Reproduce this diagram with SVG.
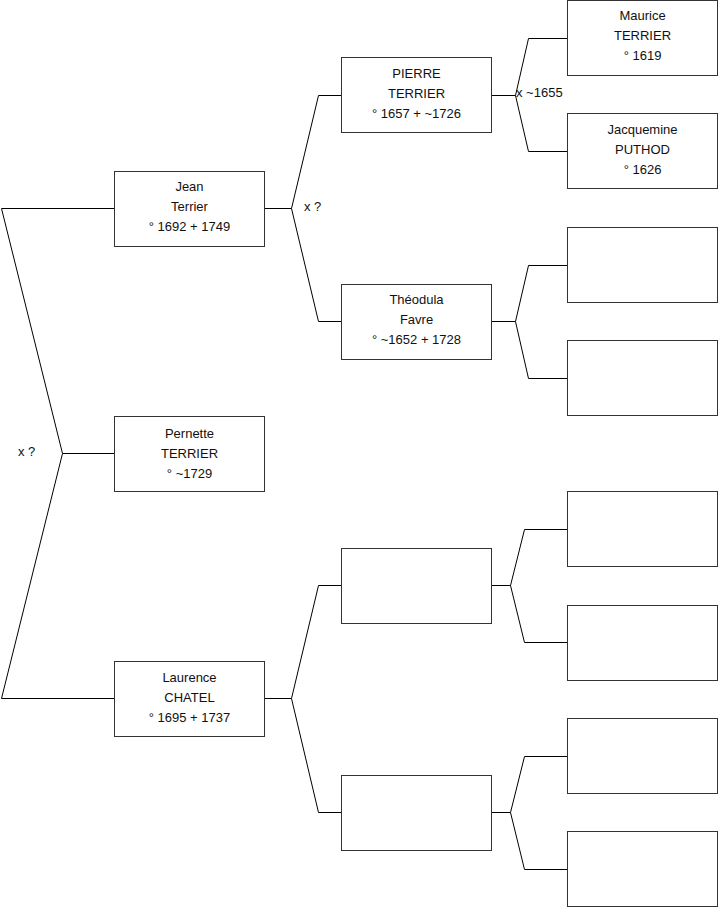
<svg xmlns="http://www.w3.org/2000/svg" width="719" height="908" viewBox="0 0 719 908">
<style>
.box{fill:#fff;stroke:#333;stroke-width:1}
.c{fill:none;stroke:#000;stroke-width:1}
text{font-family:"Liberation Sans",Arial,sans-serif;font-size:13px;fill:#111}
.t{text-anchor:middle}
</style>
<rect width="719" height="908" fill="#fff"/>
<g id="connectors">
<polyline class="c" points="114,208.5 1.5,208.5 62.5,453.5 1.5,698.5 114,698.5"/>
<line class="c" x1="62.5" y1="453.5" x2="114" y2="453.5"/>
<polyline class="c" points="341,95.5 318.5,95.5 291.5,208.5 318.5,321.5 341,321.5"/>
<line class="c" x1="265" y1="208.5" x2="291.5" y2="208.5"/>
<polyline class="c" points="341,585.5 318.5,585.5 291.5,698.5 318.5,812.5 341,812.5"/>
<line class="c" x1="265" y1="698.5" x2="291.5" y2="698.5"/>
<polyline class="c" points="567,38.5 528.5,38.5 515.5,95.5 528.5,151.5 567,151.5"/>
<line class="c" x1="491" y1="95.5" x2="515.5" y2="95.5"/>
<polyline class="c" points="567,265.5 528.5,265.5 515.5,321.5 528.5,378.5 567,378.5"/>
<line class="c" x1="491" y1="321.5" x2="515.5" y2="321.5"/>
<polyline class="c" points="567,529.5 524.5,529.5 510.5,585.5 524.5,642.5 567,642.5"/>
<line class="c" x1="491" y1="585.5" x2="510.5" y2="585.5"/>
<polyline class="c" points="567,756.5 524.5,756.5 510.5,812.5 524.5,869.5 567,869.5"/>
<line class="c" x1="491" y1="812.5" x2="510.5" y2="812.5"/>
<text x="18" y="456">x ?</text>
<text x="304" y="211">x ?</text>
<text x="516" y="97">x ~1655</text>
</g>
<g id="jean"><rect class="box" x="114.5" y="171.5" width="150" height="75"/>
<text class="t" x="189.5" y="190.5">Jean</text><text class="t" x="189.5" y="210.5">Terrier</text><text class="t" x="189.5" y="230.5">° 1692 + 1749</text></g>
<g id="pernette"><rect class="box" x="114.5" y="416.5" width="150" height="75"/>
<text class="t" x="189.5" y="437.5">Pernette</text><text class="t" x="189.5" y="457.5">TERRIER</text><text class="t" x="189.5" y="477.5">° ~1729</text></g>
<g id="laurence"><rect class="box" x="114.5" y="661.5" width="150" height="75"/>
<text class="t" x="189.5" y="681.5">Laurence</text><text class="t" x="189.5" y="701.5">CHATEL</text><text class="t" x="189.5" y="721.5">° 1695 + 1737</text></g>
<g id="pierre"><rect class="box" x="341.5" y="57.5" width="150" height="75"/>
<text class="t" x="416.5" y="77.5">PIERRE</text><text class="t" x="416.5" y="97.5">TERRIER</text><text class="t" x="416.5" y="117.5">° 1657 + ~1726</text></g>
<g id="theodula"><rect class="box" x="341.5" y="284.5" width="150" height="75"/>
<text class="t" x="416.5" y="303.5">Théodula</text><text class="t" x="416.5" y="323.5">Favre</text><text class="t" x="416.5" y="343.5">° ~1652 + 1728</text></g>
<g id="empty1"><rect class="box" x="341.5" y="548.5" width="150" height="75"/></g>
<g id="empty2"><rect class="box" x="341.5" y="775.5" width="150" height="75"/></g>
<g id="maurice"><rect class="box" x="567.5" y="0.5" width="150" height="75"/>
<text class="t" x="642.5" y="20">Maurice</text><text class="t" x="642.5" y="40">TERRIER</text><text class="t" x="642.5" y="60">° 1619</text></g>
<g id="jacquemine"><rect class="box" x="567.5" y="113.5" width="150" height="75"/>
<text class="t" x="642.5" y="133.5">Jacquemine</text><text class="t" x="642.5" y="153.5">PUTHOD</text><text class="t" x="642.5" y="173.5">° 1626</text></g>
<g id="empty3"><rect class="box" x="567.5" y="227.5" width="150" height="75"/></g>
<g id="empty4"><rect class="box" x="567.5" y="340.5" width="150" height="75"/></g>
<g id="empty5"><rect class="box" x="567.5" y="491.5" width="150" height="75"/></g>
<g id="empty6"><rect class="box" x="567.5" y="605.5" width="150" height="75"/></g>
<g id="empty7"><rect class="box" x="567.5" y="718.5" width="150" height="75"/></g>
<g id="empty8"><rect class="box" x="567.5" y="831.5" width="150" height="75"/></g>
</svg>
